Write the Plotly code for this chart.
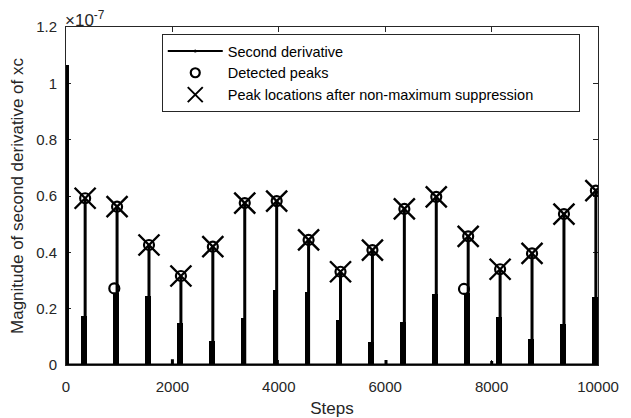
import plotly.graph_objects as go

# ---- data (values in units of 1e-7) ----
peak_steps = [360, 960, 1560, 2160, 2760, 3360, 3960, 4560, 5160, 5760,
              6360, 6960, 7560, 8160, 8760, 9360, 9960]
peak_values = [0.592, 0.562, 0.426, 0.316, 0.420, 0.575, 0.582, 0.444, 0.331,
               0.408, 0.554, 0.597, 0.457, 0.340, 0.396, 0.536, 0.619]
shoulder_values = [0.174, 0.256, 0.245, 0.150, 0.085, 0.166, 0.266, 0.258, 0.160,
                   0.083, 0.154, 0.252, 0.254, 0.172, 0.091, 0.144, 0.243]
minor_steps = [28, 2000, 6015, 8002]
minor_values = [1.065, 0.020, 0.018, 0.014]
extra_detected_steps = [908, 7481]
extra_detected_values = [0.272, 0.270]

x_ticks = [0, 2000, 4000, 6000, 8000, 10000]
x_tick_labels = ["0", "2000", "4000", "6000", "8000", "10000"]
y_ticks = [0, 0.2, 0.4, 0.6, 0.8, 1.0, 1.2]
y_tick_labels = ["0", "0.2", "0.4", "0.6", "0.8", "1", "1.2"]

names = ["Second derivative", "Detected peaks",
         "Peak locations after non-maximum suppression"]

# ---- build the second-derivative line from its spikes ----
spikes = sorted(zip(peak_steps + minor_steps, peak_values + minor_values))
deriv_x, deriv_y = [0], [0]
for s, v in spikes:
    deriv_x += [s, s, s]
    deriv_y += [0, v, 0]
deriv_x.append(10000)
deriv_y.append(0)

detected = sorted(zip(peak_steps + extra_detected_steps,
                      peak_values + extra_detected_values))
det_x = [d[0] for d in detected]
det_y = [d[1] for d in detected]

FONT = "Liberation Sans, Arial, Helvetica, sans-serif"
AX = "#262626"
PAD = "\u00a0" * 10  # MATLAB-style empty space at the right of the legend box

fig = go.Figure()
# dense sample clusters just before each peak (drawn as filled blocks)
fig.add_trace(go.Bar(
    x=[s - 22 for s in peak_steps], y=shoulder_values, width=108,
    marker=dict(color="black", line=dict(width=0)), showlegend=False,
    hoverinfo="skip"))
fig.add_trace(go.Scatter(
    x=deriv_x, y=deriv_y, mode="lines", name=names[0], showlegend=False,
    line=dict(color="black", width=3)))
fig.add_trace(go.Scatter(
    x=det_x, y=det_y, mode="markers", name=names[1], showlegend=False,
    marker=dict(symbol="circle-open", size=10, color="black",
                line=dict(width=2.2, color="black"))))
fig.add_trace(go.Scatter(
    x=peak_steps, y=peak_values, mode="markers", name=names[2], showlegend=False,
    marker=dict(symbol="x-thin", size=21, color="black",
                line=dict(width=2.4, color="black"))))

# legend entries (same styles, legend-sized symbols)
fig.add_trace(go.Scatter(
    x=[None], y=[None], mode="lines+markers", name=names[0],
    line=dict(color="black", width=2), marker=dict(size=3, color="black")))
fig.add_trace(go.Scatter(
    x=[None], y=[None], mode="markers", name=names[1],
    marker=dict(symbol="circle-open", size=9, color="black",
                line=dict(width=2.2, color="black"))))
fig.add_trace(go.Scatter(
    x=[None], y=[None], mode="markers", name=names[2] + PAD,
    marker=dict(symbol="x-thin", size=15, color="black",
                line=dict(width=2, color="black"))))

axis_common = dict(
    showgrid=False, zeroline=False, showline=True, linecolor=AX, linewidth=1,
    mirror="ticks", ticks="inside", ticklen=5, tickcolor=AX, tickwidth=1,
    tickfont=dict(family=FONT, size=15, color=AX), layer="below traces",
    automargin=False)

# the page body adds an 8px offset, so the figure is 8px smaller on each side
fig.update_layout(
    width=623, height=410,
    margin=dict(l=58, r=33, t=19, b=53),
    paper_bgcolor="white", plot_bgcolor="white",
    bargap=0,
    font=dict(family=FONT, color=AX),
    xaxis=dict(range=[0, 10000], tickvals=x_ticks, ticktext=x_tick_labels,
               title=dict(text="Steps", font=dict(family=FONT, size=17, color=AX)),
               ticklabelstandoff=8, **axis_common),
    yaxis=dict(range=[0, 1.2], tickvals=y_ticks, ticktext=y_tick_labels,
               title=dict(text="Magnitude of second derivative of xc",
                          font=dict(family=FONT, size=17, color=AX)),
               ticklabelstandoff=5, **axis_common),
    legend=dict(x=0.18, y=0.864, xanchor="left", yanchor="middle",
                bgcolor="white", bordercolor=AX, borderwidth=1,
                font=dict(family=FONT, size=14.5, color="black"),
                itemsizing="trace", itemwidth=55, tracegroupgap=0),
    annotations=[dict(text="\u00d710<sup>-7</sup>", xref="paper", yref="paper",
                      x=0, y=1, xanchor="left", yanchor="bottom", xshift=-3,
                      yshift=-5, showarrow=False,
                      font=dict(family=FONT, size=17, color=AX))],
    showlegend=True,
)

fig.write_html("out.html")
